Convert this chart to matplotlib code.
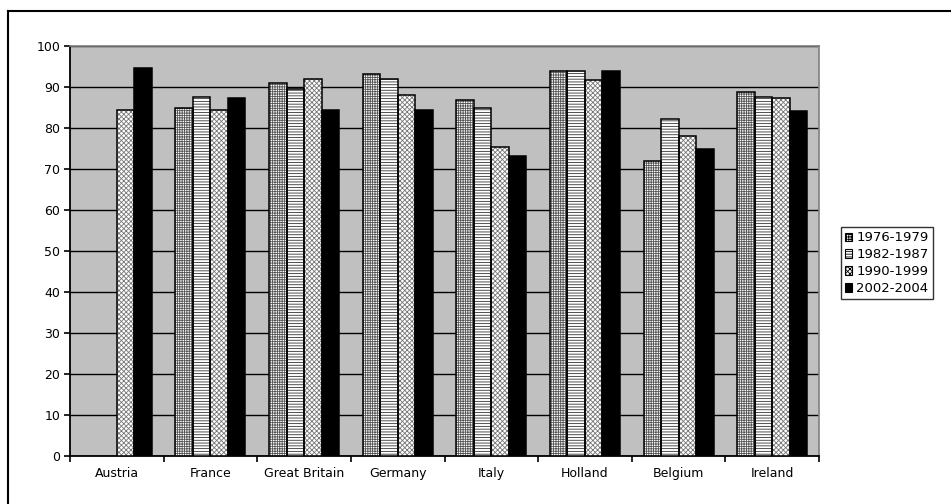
import matplotlib.pyplot as plt
import numpy as np

plt.rcParams['hatch.linewidth'] = 0.6

countries = ['Austria', 'France', 'Great Britain', 'Germany', 'Italy',
             'Holland', 'Belgium', 'Ireland']
periods = ['1976-1979', '1982-1987', '1990-1999', '2002-2004']

# NaN = no survey for that period
v_1976 = [np.nan, 84.9, 91.0, 93.2, 86.8, 93.8, 72.0, 88.9]
v_1982 = [np.nan, 87.6, 89.5, 91.9, 84.8, 93.8, 82.3, 87.6]
v_1990 = [84.3, 84.4, 91.9, 88.0, 75.3, 91.8, 78.1, 87.2]
v_2002 = [94.7, 87.3, 84.4, 84.4, 73.2, 93.9, 75.0, 84.1]
series = [v_1976, v_1982, v_1990, v_2002]

hatches = ['+++++++', '------', 'xxxxxxx', None]
hatch_cols = ['#555555', '#333333', '#777777', 'black']
faces = ['white', 'white', 'white', 'black']

fig = plt.figure(figsize=(9.51, 5.04), dpi=100)
ax = fig.add_axes([70 / 951, 48 / 504, 749 / 951, 410 / 504])
ax.set_facecolor('#c0c0c0')

x = np.arange(len(countries))
w = 0.187
handles = []
for i, vals in enumerate(series):
    pos = x + (i - 1.5) * w
    # patterned fill first, then a black outline over it
    fill = ax.bar(pos, vals, w, color=faces[i], hatch=hatches[i],
                  edgecolor=hatch_cols[i], linewidth=0, zorder=3)
    ax.bar(pos, vals, w, fill=False, edgecolor='black', linewidth=1.1, zorder=4)
    handles.append(fill)

ax.set_xlim(-0.5, len(countries) - 0.5)
ax.set_ylim(0, 100)
ax.set_yticks(np.arange(0, 101, 10))
ax.yaxis.grid(True, color='black', linewidth=1.0, zorder=0)
ax.set_axisbelow(True)

# category labels centered, tick marks on the boundaries
ax.set_xticks(x)
ax.set_xticklabels(countries, fontsize=9)
ax.set_xticks(np.arange(-0.5, len(countries)), minor=True)
ax.tick_params(axis='x', which='major', length=0, pad=8)
ax.tick_params(axis='x', which='minor', length=4, width=1.2, direction='out')
ax.tick_params(axis='y', length=4, width=1.2, labelsize=9, pad=3)

for s in ['top', 'right']:
    ax.spines[s].set_color('#808080')
    ax.spines[s].set_linewidth(1.2)
for s in ['left', 'bottom']:
    ax.spines[s].set_linewidth(1.3)

leg = ax.legend(handles=handles, labels=periods, loc='center left',
                bbox_to_anchor=(1.02, 0.47), fontsize=9.5, frameon=True,
                fancybox=False, edgecolor='black', handlelength=0.6,
                handleheight=0.6, handletextpad=0.3, borderpad=0.3,
                labelspacing=0.3)
leg.get_frame().set_linewidth(1.0)
for h in leg.legend_handles:
    h.set_edgecolor('black')
    h.set_linewidth(0.8)

# outer chart frame (top and left edges)
fig.add_artist(plt.Line2D([8 / 951, 8 / 951], [0, 1 - 11 / 504],
                          transform=fig.transFigure, color='black', lw=1.5))
fig.add_artist(plt.Line2D([8 / 951, 1], [1 - 11 / 504, 1 - 11 / 504],
                          transform=fig.transFigure, color='black', lw=1.5))

fig.savefig('out.png', dpi=100)
